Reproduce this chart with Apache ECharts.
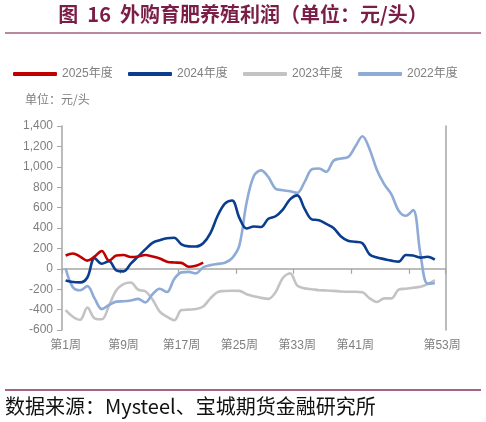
<!DOCTYPE html>
<html><head><meta charset="utf-8">
<script src="https://cdn.jsdelivr.net/npm/echarts@6/dist/echarts.min.js"></script>
<style>html,body{margin:0;padding:0;background:#fff}#c{width:486px;height:422px}</style>
</head><body><div id="c"></div>
<script>
const weeks = ['第1周','第2周','第3周','第4周','第5周','第6周','第7周','第8周','第9周','第10周',
  '第11周','第12周','第13周','第14周','第15周','第16周','第17周','第18周','第19周','第20周',
  '第21周','第22周','第23周','第24周','第25周','第26周','第27周','第28周','第29周','第30周',
  '第31周','第32周','第33周','第34周','第35周','第36周','第37周','第38周','第39周','第40周',
  '第41周','第42周','第43周','第44周','第45周','第46周','第47周','第48周','第49周','第50周',
  '第51周','第52周','第53周'];
const shownLabels = ['第1周','第9周','第17周','第25周','第33周','第41周','第53周'];
const seriesNames = ['2025年度','2024年度','2023年度','2022年度'];
const y2025 = [130,150,120,80,120,175,80,130,135,115,120,135,120,100,70,62,58,20,30,60];
const y2024 = [-114,-130,-133,-85,105,50,75,-15,-25,50,
  120,190,255,280,300,305,240,220,218,250,
  350,520,640,670,500,395,415,410,490,515,
  580,680,720,590,485,477,440,400,320,275,
  265,250,140,110,95,80,70,135,130,110,
  118,90];
const y2023 = [-405,-470,-500,-380,-485,-495,-360,-210,-150,-135,
  -205,-220,-300,-420,-470,-505,-405,-400,-395,-370,
  -290,-228,-218,-215,-216,-250,-270,-285,-295,-230,
  -90,-45,-165,-192,-200,-210,-212,-216,-222,-225,
  -225,-230,-290,-325,-290,-290,-205,-195,-185,-176,
  -150,-110];
const y2022 = [5,-180,-210,-170,-290,-395,-355,-322,-318,-310,
  -295,-329,-250,-195,-228,-100,-35,-30,-45,15,
  36,48,60,105,230,650,910,965,900,785,
  771,760,745,850,975,984,951,1060,1082,1095,
  1196,1300,1170,968,830,730,570,520,575,150,
  -145,-140];
const yMin = -600, yMax = 1400, yStep = 200;
const colors = ['#c00000','#0b3d8f','#c3c3c3','#8eaad6'];

const chart = echarts.init(document.getElementById('c'), null, {renderer:'canvas'});
const gray = '#a6a6a6', txt = '#7f7f7f';
const G = {left:62, top:126, width:383.7, height:204};
const zeroH = G.height * yMax / (yMax - yMin);
function mkLegend(i, left){
  return {data:[seriesNames[i]], left:left, top:63, icon:'roundRect', itemWidth:44, itemHeight:4,
    itemGap:6, textStyle:{color:txt, fontSize:12, fontFamily:"'Liberation Sans','Noto Sans CJK SC',sans-serif"}};
}
function mkSeries(i, data, z){
  return {name:seriesNames[i], type:'line', data:data, xAxisIndex:0, yAxisIndex:0, smooth:0.35,
    symbol:'none', showSymbol:false, z:z, lineStyle:{color:colors[i], width:2.6}, itemStyle:{color:colors[i]}};
}
chart.setOption({
  animation:false,
  textStyle:{fontFamily:"'Liberation Sans','Noto Sans CJK SC',sans-serif"},
  legend:[mkLegend(0,8), mkLegend(1,123), mkLegend(2,238), mkLegend(3,353)],
  grid:[
    {left:G.left, top:G.top, width:G.width, height:G.height, containLabel:false},
    {left:G.left, top:G.top, width:G.width, height:zeroH, containLabel:false}
  ],
  xAxis:[
    {gridIndex:0, type:'category', data:weeks, boundaryGap:true, position:'bottom',
     axisLine:{show:false, onZero:false}, axisTick:{show:false},
     axisLabel:{interval:function(i, v){return shownLabels.indexOf(v) >= 0;}, hideOverlap:false,
       color:txt, fontSize:12, margin:10,
       fontFamily:"'Liberation Sans','Noto Sans CJK SC',sans-serif"},
     splitLine:{show:false}},
    {gridIndex:1, type:'category', data:weeks, boundaryGap:true, position:'bottom',
     axisLine:{show:true, onZero:false, lineStyle:{color:gray, width:1.6}},
     axisTick:{show:true, interval:function(i){return i%8===0;}, length:5, lineStyle:{color:gray, width:1.2}},
     axisLabel:{show:false}, splitLine:{show:false}}
  ],
  yAxis:[
    {gridIndex:0, type:'value', min:yMin, max:yMax, interval:yStep,
     axisLine:{show:true, onZero:false, lineStyle:{color:gray, width:1.5}},
     axisTick:{show:true, length:5, lineStyle:{color:gray}},
     axisLabel:{color:txt, fontSize:12, margin:9, formatter:function(v){return v.toLocaleString('en-US');}},
     splitLine:{show:false}},
    {gridIndex:0, type:'value', min:yMin, max:yMax, interval:yStep, position:'right',
     axisLine:{show:true, onZero:false, lineStyle:{color:gray, width:1.5}},
     axisTick:{show:false}, axisLabel:{show:false}, splitLine:{show:false}},
    {gridIndex:1, type:'value', min:0, max:1, show:false}
  ],
  series:[
    mkSeries(2, y2023, 2),
    mkSeries(3, y2022, 3),
    mkSeries(1, y2024, 4),
    mkSeries(0, y2025, 5)
  ],
  graphic:[
    {type:'text', left:'center', top:4, style:{text:'图  16  外购育肥养殖利润（单位：元/头）', fill:'#7a1e48',
      font:"bold 20px 'Noto Sans CJK SC', sans-serif"}},
    {type:'line', shape:{x1:5, y1:33, x2:481, y2:33}, style:{stroke:'#a0607e', lineWidth:1.5}},
    {type:'text', left:25, top:93, style:{text:'单位：元/头', fill:txt, font:"12px 'Noto Sans CJK SC', sans-serif"}},
    {type:'line', shape:{x1:5, y1:390, x2:481, y2:390}, style:{stroke:'#8b2e5a', lineWidth:1.5}},
    {type:'text', left:5, top:396, style:{text:'数据来源：Mysteel、宝城期货金融研究所', fill:'#111',
      font:"20px 'Noto Sans CJK SC', sans-serif"}}
  ]
});
</script></body></html>
